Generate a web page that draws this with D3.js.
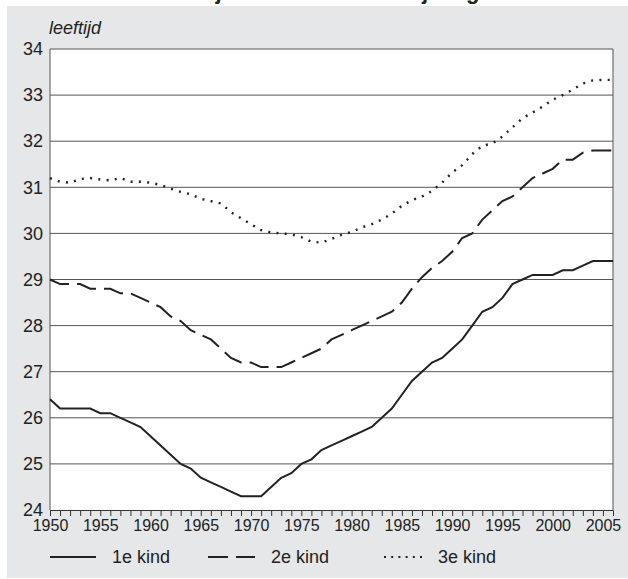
<!DOCTYPE html>
<html>
<head>
<meta charset="utf-8">
<script src="https://cdn.jsdelivr.net/npm/d3@7"></script>
<style>
  body { margin: 0; background: #fff; }
  text { font-family: "Liberation Sans", Arial, sans-serif; fill: #222; }
</style>
</head>
<body>
<script>

// jaren en gemiddelde leeftijd van de moeder per rangnummer
var years = d3.range(1950, 2007);

var kind1 = [26.4, 26.2, 26.2, 26.2, 26.2, 26.1, 26.1, 26.0, 25.9, 25.8,
             25.6, 25.4, 25.2, 25.0, 24.9, 24.7, 24.6, 24.5, 24.4, 24.3,
             24.3, 24.3, 24.5, 24.7, 24.8, 25.0, 25.1, 25.3, 25.4, 25.5,
             25.6, 25.7, 25.8, 26.0, 26.2, 26.5, 26.8, 27.0, 27.2, 27.3,
             27.5, 27.7, 28.0, 28.3, 28.4, 28.6, 28.9, 29.0, 29.1, 29.1,
             29.1, 29.2, 29.2, 29.3, 29.4, 29.4, 29.4];

var kind2 = [29.0, 28.9, 28.9, 28.9, 28.8, 28.8, 28.8, 28.7, 28.7, 28.6,
             28.5, 28.4, 28.2, 28.1, 27.9, 27.8, 27.7, 27.5, 27.3, 27.2,
             27.2, 27.1, 27.1, 27.1, 27.2, 27.3, 27.4, 27.5, 27.7, 27.8,
             27.9, 28.0, 28.1, 28.2, 28.3, 28.5, 28.8, 29.05, 29.25, 29.4,
             29.6, 29.9, 30.0, 30.3, 30.5, 30.7, 30.8, 31.0, 31.2, 31.3,
             31.4, 31.6, 31.6, 31.75, 31.8, 31.8, 31.8];

var kind3 = [31.2, 31.12, 31.1, 31.18, 31.2, 31.17, 31.15, 31.2, 31.12, 31.12,
             31.1, 31.05, 30.97, 30.9, 30.85, 30.75, 30.7, 30.65, 30.46, 30.33,
             30.2, 30.07, 30.02, 30.0, 29.98, 29.92, 29.82, 29.8, 29.88, 29.97,
             30.03, 30.13, 30.2, 30.3, 30.43, 30.6, 30.72, 30.8, 30.92, 31.1,
             31.32, 31.48, 31.72, 31.9, 31.95, 32.1, 32.3, 32.5, 32.62, 32.75,
             32.9, 33.0, 33.12, 33.25, 33.32, 33.33, 33.33];

var yTicks = d3.range(24, 35);
var seriesNames = ["1e kind", "2e kind", "3e kind"];
var dashes = [null, "20,8", "2,6.3"];

var svg = d3.select("body").append("svg")
            .attr("width", 628)
            .attr("height", 579);

// grijze achtergrond
svg.append("rect")
   .attr("x", 7).attr("y", 6)
   .attr("width", 621).attr("height", 572)
   .attr("fill", "#e6e7e9");

// titel, grotendeels buiten beeld
svg.append("text")
   .attr("x", 32).attr("y", -1)
   .attr("font-size", 22)
   .attr("font-weight", "bold")
   .text("Gemiddelde leeftijd van de moeder bij de geboorte");

var margin = {left: 50, right: 15, top: 49, bottom: 69};
var width = 628 - margin.left - margin.right;
var height = 579 - margin.top - margin.bottom;

var g = svg.append("g")
           .attr("transform", "translate(" + margin.left + "," + margin.top + ")");

var x = d3.scaleLinear().domain([1950, 2006]).range([0, width]);
var y = d3.scaleLinear().domain([24, 34]).range([height, 0]);

g.append("rect")
 .attr("width", width).attr("height", height)
 .attr("fill", "#fff");

// rasterlijnen
g.selectAll(".grid")
 .data(yTicks.slice(1, -1))
 .enter().append("line")
 .attr("x1", 0).attr("x2", width)
 .attr("y1", function(d) { return y(d); })
 .attr("y2", function(d) { return y(d); })
 .attr("stroke", "#555")
 .attr("stroke-width", 1);

// kader
g.append("path")
 .attr("d", "M0," + height + "V0H" + width + "V" + height)
 .attr("fill", "none")
 .attr("stroke", "#555")
 .attr("stroke-width", 1);

// y-as
var yAxis = g.append("g")
             .call(d3.axisLeft(y).tickValues(yTicks).tickSize(0).tickPadding(7));
yAxis.select(".domain").remove();
yAxis.selectAll("text")
     .attr("font-size", 18)
     .attr("font-family", "Liberation Sans, Arial, sans-serif")
     .attr("fill", "#222");

// x-as
var xAxis = g.append("g")
             .attr("transform", "translate(0," + height + ")")
             .call(d3.axisBottom(x)
                     .tickValues(d3.range(1950, 2006))
                     .tickSize(6)
                     .tickPadding(4)
                     .tickFormat(function(d) { return d % 5 == 0 ? d : ""; }));
xAxis.select(".domain").attr("stroke", "#333");
xAxis.selectAll(".tick line").attr("stroke", "#333");
xAxis.selectAll("text")
     .attr("font-size", 16)
     .attr("font-family", "Liberation Sans, Arial, sans-serif")
     .attr("fill", "#222");

g.append("text")
 .attr("x", -1).attr("y", -15)
 .attr("font-size", 18)
 .attr("font-style", "italic")
 .text("leeftijd");

var line = d3.line()
             .x(function(d) { return x(d[0]); })
             .y(function(d) { return y(d[1]); });

var allSeries = [kind1, kind2, kind3];

allSeries.forEach(function(s, i) {
  g.append("path")
   .datum(years.map(function(yr, j) { return [yr, s[j]]; }))
   .attr("d", line)
   .attr("fill", "none")
   .attr("stroke", "#222")
   .attr("stroke-width", i == 2 ? 2.4 : 2)
   .attr("stroke-dasharray", dashes[i]);
});

// legenda
var legendX = [50, 208, 384];
var legendW = [46, 47, 38];
var legend = svg.append("g");

seriesNames.forEach(function(name, i) {
  legend.append("line")
        .attr("x1", legendX[i]).attr("x2", legendX[i] + legendW[i])
        .attr("y1", 557).attr("y2", 557)
        .attr("stroke", "#222")
        .attr("stroke-width", 2)
        .attr("stroke-dasharray", i == 1 ? "20,8" : (i == 2 ? "2,5.2" : null));
  legend.append("text")
        .attr("x", legendX[i] + legendW[i] + 16)
        .attr("y", 563)
        .attr("font-size", 18)
        .text(name);
});

</script>
</body>
</html>
